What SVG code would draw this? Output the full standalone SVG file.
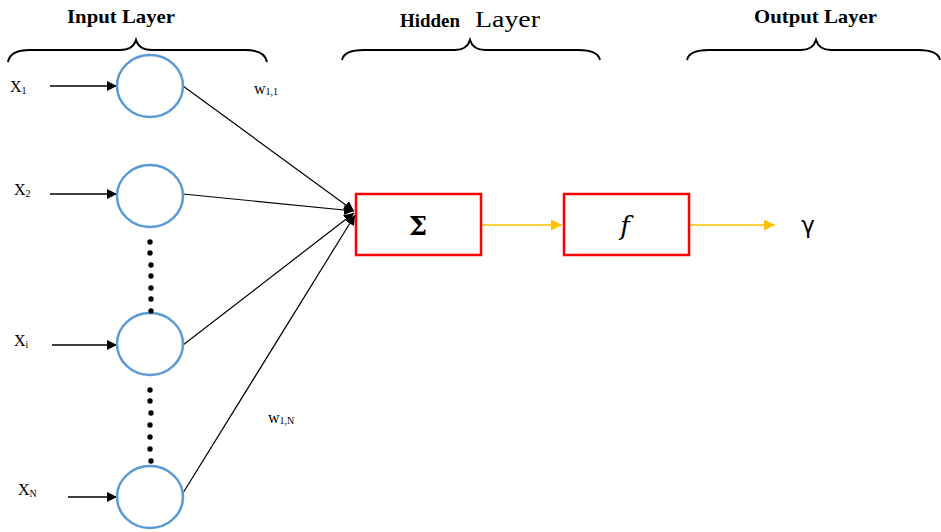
<svg xmlns="http://www.w3.org/2000/svg" width="941" height="532" viewBox="0 0 941 532">
<defs>
<marker id="ab" viewBox="0 0 10 10" refX="10" refY="5" markerWidth="10" markerHeight="10" markerUnits="userSpaceOnUse" orient="auto"><path d="M0,0 L10,5 L0,10 z" fill="#000"/></marker>
<marker id="ao" viewBox="0 0 10 10" refX="10" refY="5" markerWidth="11" markerHeight="11" markerUnits="userSpaceOnUse" orient="auto"><path d="M0,0 L10,5 L0,10 z" fill="#ffc000"/></marker>
</defs>
<style>
.node{fill:#fff;stroke:#5b9bd5;stroke-width:2.5}
.box{fill:#fff;stroke:#ff0000;stroke-width:2.5}
.brace{fill:none;stroke:#000;stroke-width:2}
.ln{stroke:#000;stroke-width:1.2;fill:none}
.in{stroke:#000;stroke-width:1.5;fill:none}
.or{stroke:#ffc000;stroke-width:1.6;fill:none}
.t{font-family:"Liberation Serif",serif;font-weight:bold;font-size:19px;fill:#000}
.lbl{font-family:"Liberation Serif",serif;font-size:16px;fill:#000}
.sub{font-size:10px}
.dot{fill:#000}
</style>
<rect width="941" height="532" fill="#fff"/>
<g id="titles">
<text class="t" x="67" y="23" textLength="108" lengthAdjust="spacingAndGlyphs">Input  Layer</text>
<text class="t" x="400" y="27" font-size="19px" textLength="60" lengthAdjust="spacingAndGlyphs">Hidden</text>
<text x="475" y="27" font-family="Liberation Serif,serif" font-size="24px" textLength="65" lengthAdjust="spacingAndGlyphs">Layer</text>
<text class="t" x="754" y="23" textLength="123" lengthAdjust="spacingAndGlyphs">Output  Layer</text>
</g>
<g id="braces">
<path class="brace" d="M8,62 Q10,50 30,50 L120,50 Q133,50 136,40 Q139,50 152,50 L245,50 Q265,50 267,62"/>
<path class="brace" d="M342,60 Q344,50 364,50 L455,50 Q467,50 470,40 Q473,50 485,50 L578,50 Q598,50 600,60"/>
<path class="brace" d="M687,60 Q689,50 709,50 L801,50 Q813,50 816,40 Q819,50 831,50 L918,50 Q938,50 940,60"/>
</g>
<g id="connectors">
<line class="in" x1="50" y1="86" x2="117" y2="86" marker-end="url(#ab)"/>
<line class="in" x1="50" y1="194" x2="117" y2="194" marker-end="url(#ab)"/>
<line class="in" x1="52" y1="345" x2="117" y2="345" marker-end="url(#ab)"/>
<line class="in" x1="68" y1="497" x2="117" y2="497" marker-end="url(#ab)"/>
<line class="ln" x1="183" y1="86" x2="354" y2="211" marker-end="url(#ab)"/>
<line class="ln" x1="183" y1="194" x2="354" y2="211" marker-end="url(#ab)"/>
<line class="ln" x1="183" y1="345" x2="354" y2="213" marker-end="url(#ab)"/>
<line class="ln" x1="183" y1="493" x2="355" y2="215" marker-end="url(#ab)"/>
<line class="or" x1="481" y1="225" x2="562" y2="225" marker-end="url(#ao)"/>
<line class="or" x1="689" y1="225" x2="775" y2="225" marker-end="url(#ao)"/>
</g>
<g id="x1"><ellipse class="node" cx="150" cy="86" rx="33" ry="31"/><text class="lbl" x="10" y="92">X<tspan class="sub" dy="2">1</tspan></text></g>
<g id="x2"><ellipse class="node" cx="150" cy="196" rx="33" ry="31"/><text class="lbl" x="14" y="195">X<tspan class="sub" dy="2">2</tspan></text></g>
<g id="xi"><ellipse class="node" cx="150" cy="344" rx="33" ry="31"/><text class="lbl" x="14" y="346">X<tspan class="sub" dy="2">i</tspan></text></g>
<g id="xn"><ellipse class="node" cx="150" cy="497" rx="33" ry="31"/><text class="lbl" x="18" y="495">X<tspan class="sub" dy="2">N</tspan></text></g>
<g id="dots1">
<circle class="dot" cx="150" cy="242" r="2.7"/><circle class="dot" cx="150" cy="253" r="2.7"/><circle class="dot" cx="151" cy="265" r="2.7"/><circle class="dot" cx="151" cy="276" r="2.7"/><circle class="dot" cx="151" cy="288" r="2.7"/><circle class="dot" cx="151" cy="299" r="2.7"/><circle class="dot" cx="151" cy="311" r="2.7"/>
</g>
<g id="dots2">
<circle class="dot" cx="150" cy="390" r="2.7"/><circle class="dot" cx="150" cy="401" r="2.7"/><circle class="dot" cx="151" cy="413" r="2.7"/><circle class="dot" cx="150" cy="425" r="2.7"/><circle class="dot" cx="150" cy="437" r="2.7"/><circle class="dot" cx="150" cy="449" r="2.7"/><circle class="dot" cx="151" cy="461" r="2.7"/>
</g>
<g id="weights">
<text class="lbl" x="254" y="94" font-size="13px">w<tspan class="sub" dy="1">1,1</tspan></text>
<text class="lbl" x="268" y="423" font-size="13px">w<tspan class="sub" dy="1">1,N</tspan></text>
</g>
<g id="sum"><rect class="box" x="356" y="194" width="125" height="61"/><text x="418" y="235" text-anchor="middle" font-family="DejaVu Serif,serif" font-weight="bold" font-size="26px">Σ</text></g>
<g id="act"><rect class="box" x="564" y="194" width="125" height="61"/><text x="625" y="235" text-anchor="middle" font-family="DejaVu Serif,serif" font-style="italic" font-size="26px">f</text></g>
<g id="out"><text x="808" y="233" text-anchor="middle" font-family="DejaVu Sans,sans-serif" font-size="23px">γ</text></g>
</svg>
